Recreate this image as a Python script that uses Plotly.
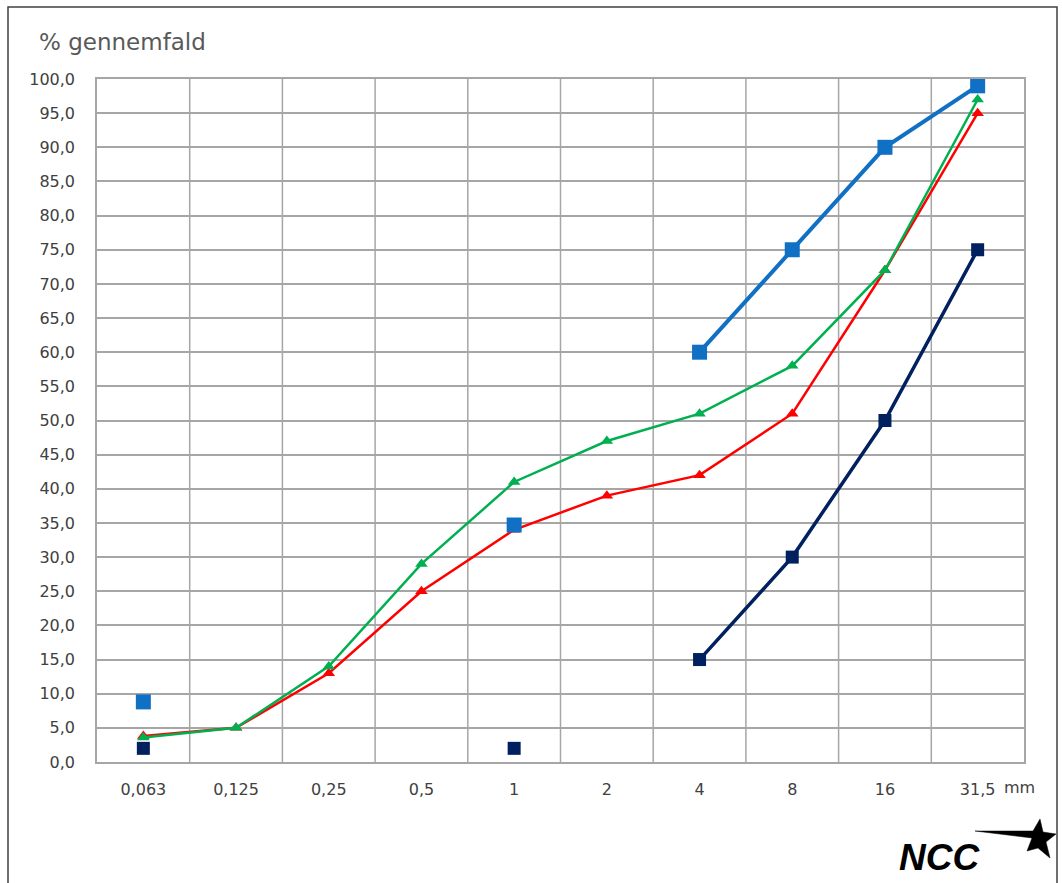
import plotly.graph_objects as go

sieves = ["0,063", "0,125", "0,25", "0,5", "1", "2", "4", "8", "16", "31,5"]
upper_limit = [8.8, None, None, None, 34.7, None, 60, 75, 90, 99]
lower_limit = [2, None, None, None, 2, None, 15, 30, 50, 75]
sample_red = [3.8, 5, 13, 25, 34, 39, 42, 51, 72, 95]
sample_green = [3.6, 5, 14, 29, 41, 47, 51, 58, 72, 97]
y_ticks = list(range(0, 101, 5))

W, H = 1062, 883
L, R, T, B = 97, 1024, 79, 762


def px(xp):
    return (xp - L) / (R - L)


def py(yp):
    return (B - yp) / (B - T)


xs = list(range(len(sieves)))
fig = go.Figure()
fig.add_trace(go.Scatter(x=xs, y=lower_limit, mode="lines+markers", connectgaps=False,
                         line=dict(color="#002060", width=3.5),
                         marker=dict(symbol="square", size=13, color="#002060")))
fig.add_trace(go.Scatter(x=xs, y=sample_red, mode="lines+markers",
                         line=dict(color="#FF0000", width=2.5),
                         marker=dict(symbol="triangle-up", size=11, color="#FF0000")))
fig.add_trace(go.Scatter(x=xs, y=sample_green, mode="lines+markers",
                         line=dict(color="#00B050", width=2.5),
                         marker=dict(symbol="triangle-up", size=11, color="#00B050")))
fig.add_trace(go.Scatter(x=xs, y=upper_limit, mode="lines+markers", connectgaps=False,
                         line=dict(color="#1070C4", width=4),
                         marker=dict(symbol="square", size=15, color="#1070C4")))

tick_font = dict(family="DejaVu Sans, sans-serif", size=16, color="#404040")

fig.update_layout(
    width=W, height=H,
    margin=dict(l=L, r=W - R, t=T, b=H - B),
    paper_bgcolor="white", plot_bgcolor="white",
    showlegend=False,
    separators=",.",
    xaxis=dict(range=[-0.5, 9.5], tickvals=xs, ticktext=sieves, showgrid=False,
               ticks="outside", ticklen=12, tickcolor="rgba(0,0,0,0)",
               showline=True, linecolor="#A6A6A6", linewidth=1.5, mirror=True,
               tickfont=tick_font, zeroline=False, fixedrange=True),
    yaxis=dict(range=[0, 100], tickvals=y_ticks, tickformat=".1f", showgrid=True,
               gridcolor="#A6A6A6", gridwidth=1.5,
               ticks="outside", ticklen=17, tickcolor="rgba(0,0,0,0)",
               showline=True, linecolor="#A6A6A6", linewidth=1.5, mirror=True,
               tickfont=tick_font, zeroline=False, fixedrange=True),
)

# vertical category separators
for i in range(1, len(sieves)):
    fig.add_shape(type="line", xref="x", yref="paper", x0=i - 0.5, x1=i - 0.5, y0=0, y1=1,
                  line=dict(color="#A6A6A6", width=1.5), layer="below")

# outer frame (left, top, right)
fig.add_shape(type="path", xref="paper", yref="paper",
              path=f"M{px(8)},{py(883)} L{px(8)},{py(7)} L{px(1057)},{py(7)} L{px(1057)},{py(883)}",
              line=dict(color="#404040", width=1.5))

fig.add_annotation(text="% gennemfald", xref="paper", yref="paper", x=px(37), y=py(42),
                   xanchor="left", yanchor="middle", showarrow=False,
                   font=dict(family="DejaVu Sans, sans-serif", size=23, color="#595959"))
fig.add_annotation(text="mm", xref="paper", yref="paper", x=px(1002), y=py(787),
                   xanchor="left", yanchor="middle", showarrow=False, font=tick_font)

# NCC logo
fig.add_annotation(text="<b><i>NCC</i></b>", xref="paper", yref="paper", x=px(897), y=py(857),
                   xanchor="left", yanchor="middle", showarrow=False,
                   font=dict(family="Liberation Sans, Arial, sans-serif", size=37, color="black"))
star = [(975, 831), (1033, 831), (1040, 819), (1043, 832), (1056, 834), (1046, 842),
        (1050, 858), (1038, 848), (1027, 851), (1032, 838)]
path = "M" + " L".join(f"{px(a)},{py(b)}" for a, b in star) + " Z"
fig.add_shape(type="path", xref="paper", yref="paper", path=path,
              fillcolor="black", line=dict(color="black", width=0.5))

fig.write_html("out.html")
